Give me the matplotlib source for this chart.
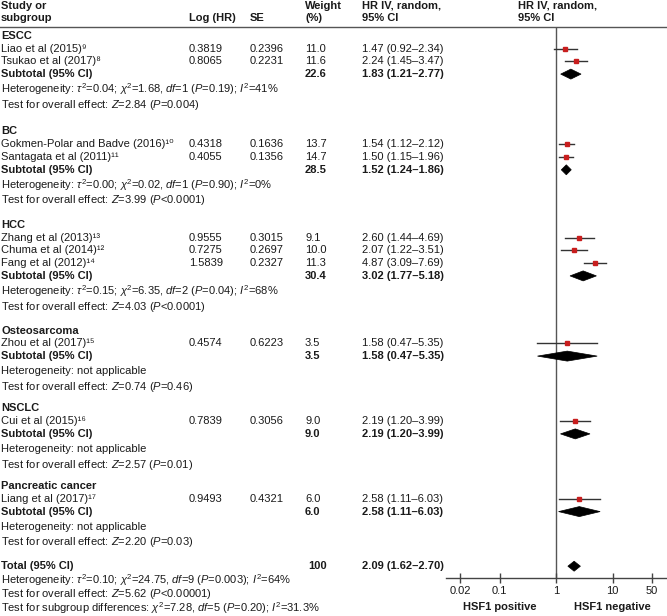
import matplotlib
matplotlib.use("Agg")
import matplotlib.pyplot as plt
from matplotlib.patches import Polygon
import numpy as np

plt.rcParams['font.family'] = ['Liberation Sans', 'DejaVu Sans']
plt.rcParams['mathtext.fontset'] = 'custom'
plt.rcParams['mathtext.rm'] = 'Liberation Sans'
plt.rcParams['mathtext.it'] = 'Liberation Sans:italic'
plt.rcParams['mathtext.bf'] = 'Liberation Sans:bold'

# ---------------- data ----------------
group_names = ["ESCC", "BC", "HCC", "Osteosarcoma", "NSCLC", "Pancreatic cancer"]
study_names = ["Liao et al (2015)", "Tsukao et al (2017)", "Gokmen-Polar and Badve (2016)",
               "Santagata et al (2011)", "Zhang et al (2013)", "Chuma et al (2014)",
               "Fang et al (2012)", "Zhou et al (2017)", "Cui et al (2015)", "Liang et al (2017)"]
study_refs = ["9", "8", "10", "11", "13", "12", "14", "15", "16", "17"]
study_group = [0, 0, 1, 1, 2, 2, 2, 3, 4, 5]
log_hr = [0.3819, 0.8065, 0.4318, 0.4055, 0.9555, 0.7275, 1.5839, 0.4574, 0.7839, 0.9493]
se = [0.2396, 0.2231, 0.1636, 0.1356, 0.3015, 0.2697, 0.2327, 0.6223, 0.3056, 0.4321]
weight = [11.0, 11.6, 13.7, 14.7, 9.1, 10.0, 11.3, 3.5, 9.0, 6.0]
hr = [1.47, 2.24, 1.54, 1.50, 2.60, 2.07, 4.87, 1.58, 2.19, 2.58]
hr_lo = [0.92, 1.45, 1.12, 1.15, 1.44, 1.22, 3.09, 0.47, 1.20, 1.11]
hr_hi = [2.34, 3.47, 2.12, 1.96, 4.69, 3.51, 7.69, 5.35, 3.99, 6.03]

sub_weight = [22.6, 28.5, 30.4, 3.5, 9.0, 6.0]
sub_hr = [1.83, 1.52, 3.02, 1.58, 2.19, 2.58]
sub_lo = [1.21, 1.24, 1.77, 0.47, 1.20, 1.11]
sub_hi = [2.77, 1.86, 5.18, 5.35, 3.99, 6.03]
sub_het = [r"Heterogeneity: $\tau^2$=0.04; $\chi^2$=1.68, $df$=1 ($P$=0.19); $I^2$=41%",
           r"Heterogeneity: $\tau^2$=0.00; $\chi^2$=0.02, $df$=1 ($P$=0.90); $I^2$=0%",
           r"Heterogeneity: $\tau^2$=0.15; $\chi^2$=6.35, $df$=2 ($P$=0.04); $I^2$=68%",
           "Heterogeneity: not applicable",
           "Heterogeneity: not applicable",
           "Heterogeneity: not applicable"]
sub_test = [r"Test for overall effect: $Z$=2.84 ($P$=0.004)",
            r"Test for overall effect: $Z$=3.99 ($P$<0.0001)",
            r"Test for overall effect: $Z$=4.03 ($P$<0.0001)",
            r"Test for overall effect: $Z$=0.74 ($P$=0.46)",
            r"Test for overall effect: $Z$=2.57 ($P$=0.01)",
            r"Test for overall effect: $Z$=2.20 ($P$=0.03)"]

total_weight = 100
total_hr = 2.09
total_lo = 1.62
total_hi = 2.70
total_lines = [r"Heterogeneity: $\tau^2$=0.10; $\chi^2$=24.75, $df$=9 ($P$=0.003); $I^2$=64%",
               r"Test for overall effect: $Z$=5.62 ($P$<0.00001)",
               r"Test for subgroup differences: $\chi^2$=7.28, $df$=5 ($P$=0.20); $I^2$=31.3%"]

x_ticks = [0.02, 0.1, 1, 10, 50]
x_tick_labels = ["0.02", "0.1", "1", "10", "50"]
favours = ["HSF1 positive", "HSF1 negative"]

SUP = str.maketrans("0123456789", "\u2070\u00b9\u00b2\u00b3\u2074\u2075\u2076\u2077\u2078\u2079")

# ---------------- layout (pixel units) ----------------
W, H = 667, 616
fig = plt.figure(figsize=(W / 100, H / 100), dpi=100)
axt = fig.add_axes([0, 0, 1, 1])
axt.set_xlim(0, W)
axt.set_ylim(H, 0)
axt.axis('off')

FS = 8.0
X_NAME, X_LOG, X_SE, X_W, X_HR, X_HR2 = 1, 189, 250, 305, 362, 518
HEAD_LINE = 27
AX_BOTTOM = 578
AX_LEFT, AX_RIGHT = 446, 667
STEP, HSTEP, TSTEP = 12.8, 15.3, 15.3
GAPS = [8.7, 26.7, 24.3, 24.0, 21.6, 21.5, 24.0]
TOTAL_STEPS = [14.0, 14.0, 13.5]
TEXT_COLOR = '#1a1a1a'


def txt(x, y, s, bold=False, ha='left', size=FS):
    axt.text(x, y, s, fontsize=size, fontweight='bold' if bold else 'normal',
             ha=ha, va='center', color=TEXT_COLOR)


# headers
txt(X_NAME, 6, "Study or", bold=True)
txt(X_NAME, 18, "subgroup", bold=True)
txt(X_LOG, 18, "Log (HR)", bold=True)
txt(X_SE, 18, "SE", bold=True)
txt(X_W, 6, "Weight", bold=True)
txt(X_W, 18, "(%)", bold=True)
txt(X_HR, 6, "HR IV, random,", bold=True)
txt(X_HR, 18, "95% CI", bold=True)
txt(X_HR2, 6, "HR IV, random,", bold=True)
txt(X_HR2, 18, "95% CI", bold=True)
axt.plot([0, W], [HEAD_LINE, HEAD_LINE], color='#555555', lw=1.0)

# forest axes
axf = fig.add_axes([AX_LEFT / W, (H - AX_BOTTOM) / H, (AX_RIGHT - AX_LEFT) / W,
                    (AX_BOTTOM - HEAD_LINE) / H])
axf.set_xscale('log')
axf.set_xlim(0.0113, 92.0)
axf.set_ylim(AX_BOTTOM, HEAD_LINE)
axf.patch.set_alpha(0)
for sp in ['top', 'right', 'left']:
    axf.spines[sp].set_visible(False)
axf.spines['bottom'].set_color('#444444')
axf.spines['bottom'].set_linewidth(1.0)
axf.set_yticks([])
axf.set_xticks(x_ticks)
axf.set_xticklabels(x_tick_labels, fontsize=FS, color=TEXT_COLOR)
axf.xaxis.set_minor_locator(matplotlib.ticker.NullLocator())
axf.tick_params(axis='x', direction='inout', length=7, width=1.0, color='#444444', pad=2)
axf.axvline(1, color='#555555', lw=1.0, zorder=1)


def diamond(y, c, lo, hi, h=5.0):
    poly = Polygon([[lo, y], [c, y - h], [hi, y], [c, y + h]], closed=True,
                   facecolor='black', edgecolor='black', lw=0.5, zorder=3)
    axf.add_patch(poly)


y = HEAD_LINE
for g, gname in enumerate(group_names):
    y += GAPS[g]
    txt(X_NAME, y, gname, bold=True)
    for i in range(len(study_names)):
        if study_group[i] != g:
            continue
        y += STEP
        txt(X_NAME, y, study_names[i] + study_refs[i].translate(SUP))
        txt(X_LOG, y, f"{log_hr[i]:.4f}")
        txt(X_SE, y, f"{se[i]:.4f}")
        txt(X_W, y, f"{weight[i]:.1f}")
        txt(X_HR, y, f"{hr[i]:.2f} ({hr_lo[i]:.2f}\u2013{hr_hi[i]:.2f})")
        axf.plot([hr_lo[i], hr_hi[i]], [y, y], color='#333333', lw=1.0, zorder=2)
        axf.plot([hr[i]], [y], marker='s', ms=3.0, color='#c81e1e', mec='#c81e1e', zorder=4)
    y += STEP
    txt(X_NAME, y, "Subtotal (95% CI)", bold=True)
    txt(X_W, y, f"{sub_weight[g]:.1f}", bold=True)
    txt(X_HR, y, f"{sub_hr[g]:.2f} ({sub_lo[g]:.2f}\u2013{sub_hi[g]:.2f})", bold=True)
    diamond(y, sub_hr[g], sub_lo[g], sub_hi[g])
    y += HSTEP
    txt(X_NAME, y, sub_het[g])
    y += TSTEP
    txt(X_NAME, y, sub_test[g])

y += GAPS[-1]
txt(X_NAME, y, "Total (95% CI)", bold=True)
txt(327, y, f"{total_weight}", bold=True, ha='right')
txt(X_HR, y, f"{total_hr:.2f} ({total_lo:.2f}\u2013{total_hi:.2f})", bold=True)
diamond(y, total_hr, total_lo, total_hi)
for k, line in enumerate(total_lines):
    y += TOTAL_STEPS[k]
    txt(X_NAME, y, line)

# favours labels below the axis
axt.text(500, 607.5, favours[0], fontsize=FS, fontweight='bold', ha='center', va='center', color=TEXT_COLOR)
axt.text(612, 607.5, favours[1], fontsize=FS, fontweight='bold', ha='center', va='center', color=TEXT_COLOR)

fig.savefig("out.png", dpi=100)
